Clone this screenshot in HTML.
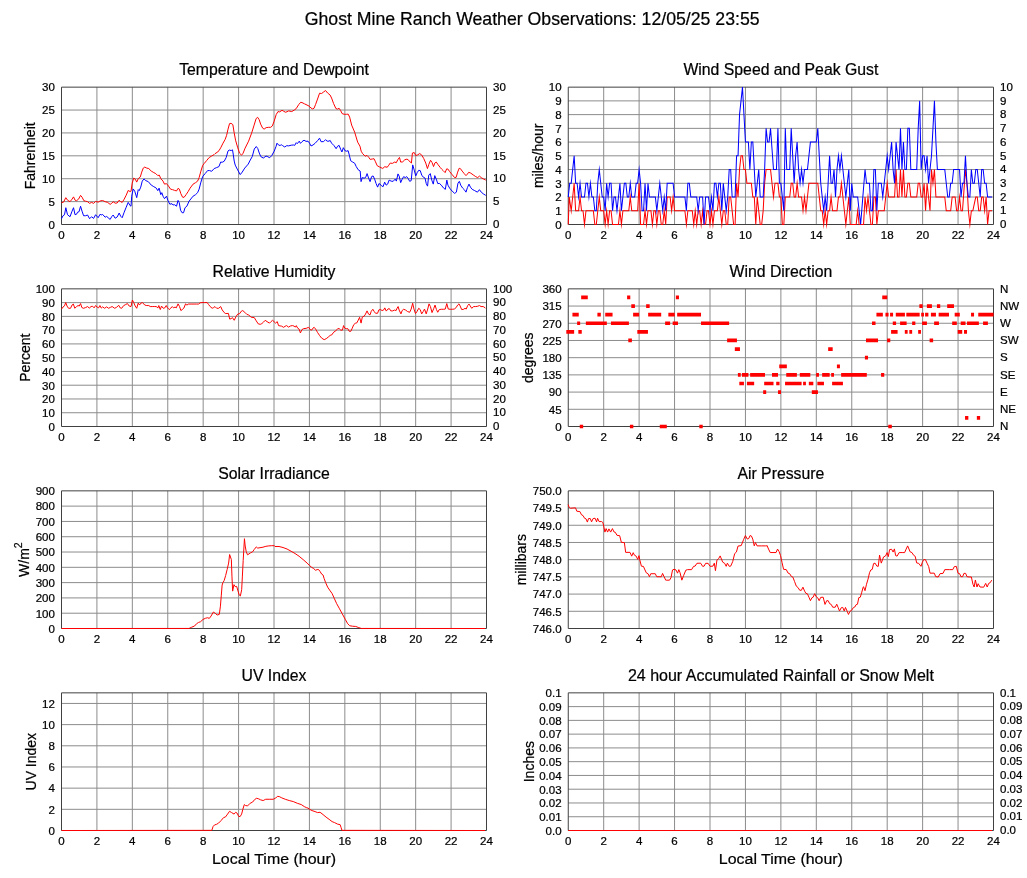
<!DOCTYPE html>
<html lang="en"><head><meta charset="utf-8"><title>Ghost Mine Ranch Weather Observations</title>
<style>html,body{margin:0;padding:0;background:#fff}body{width:1027px;height:878px;overflow:hidden}svg{will-change:transform;transform:translateZ(0)}text{stroke:#000;stroke-width:.22px;stroke-linejoin:round}</style></head>
<body>
<svg width="1027" height="878" viewBox="0 0 1027 878" style="display:block" font-family='&quot;Liberation Sans&quot;, Arial, Helvetica, sans-serif' fill="#000" stroke="none">
<rect width="1027" height="878" fill="#fff" fill-opacity="0"/>
<text x="532.2" y="24.5" font-size="17.7" text-anchor="middle">Ghost Mine Ranch Weather Observations: 12/05/25 23:55</text>
<path d="M96.92 87.15V224.5M132.33 87.15V224.5M167.75 87.15V224.5M203.17 87.15V224.5M238.58 87.15V224.5M274 87.15V224.5M309.42 87.15V224.5M344.83 87.15V224.5M380.25 87.15V224.5M415.67 87.15V224.5M451.08 87.15V224.5M61.5 201.61H486.5M61.5 178.72H486.5M61.5 155.82H486.5M61.5 132.93H486.5M61.5 110.04H486.5" stroke="#8c8c8c" stroke-width="1" fill="none"/>
<path d="M61.5 87.15H486.5V224.5H61.5Z" stroke="#404040" stroke-width="1" fill="none"/>
<polyline points="61.5,202.68 63.51,202.18 65.82,197.67 67.52,200.18 70.03,201.68 72.04,199.17 73.54,196.87 75.04,200.18 76.55,200.68 78.55,199.17 80.56,195.36 82.06,197.17 83.87,200.68 85.57,201.18 87.58,201.68 89.59,203.38 91.59,202.38 93.6,203.38 95.6,201.38 98.11,202.18 100.12,200.98 102.62,200.48 105.13,201.68 107.64,202.38 110.15,204.39 111.65,203.38 113.15,201.68 115.16,203.18 117.17,202.98 119.17,200.18 120.68,201.68 122.18,202.38 124.19,199.17 126.19,195.16 128.2,190.45 130.2,191.65 131.01,191.15 132.21,183.13 133.71,178.11 135.22,179.11 136.72,182.12 138.23,178.61 140.23,177.11 141.74,172.09 143.24,168.08 144.75,167.08 146.75,168.08 148.76,168.58 151.27,171.09 153.77,172.59 155.78,173.6 157.78,175.6 159.29,175.1 160.79,178.61 163,181.12 164.5,184.13 166.51,183.63 168.52,186.14 170.52,189.15 172.53,189.65 174.53,190.35 176.54,190.95 178.04,188.35 179.35,189.15 180.85,193.66 182.56,197.17 184.06,197.37 186.07,194.67 188.07,191.66 190.08,188.15 193.09,184.13 195.59,182.63 197.6,181.13 199.11,177.62 200.91,171.1 202.62,165.58 204.12,163.57 206.63,160.57 209.13,157.56 211.64,156.05 214.15,154.55 215,153.7 217.01,152.4 219.01,150.69 221.02,147.18 223.02,143.17 225.03,139.66 226.53,135.65 228.04,129.13 229.54,123.61 231.05,123.31 232.85,124.62 234.06,132.14 235.56,140.16 237.57,147.18 239.57,153.2 241.58,155.2 243.08,153.2 245.09,148.18 248.6,141.16 251.61,133.14 254.11,125.12 256.12,118.6 257.62,117.29 259.13,119.6 260.63,124.11 262.64,128.13 264.14,129.13 266.15,127.62 268.66,127.32 270.66,127.32 272.37,125.92 274.17,121.11 276.18,114.59 277.98,111.58 279.69,111.88 282,110.27 283.7,111.28 285.71,112.28 288.71,110.88 291.72,111.58 294.23,110.07 296.24,108.57 298.74,104.56 300.75,102.25 302.01,102.55 304.51,103.85 307.02,105.06 309.03,106.06 311.03,108.07 312.54,108.87 314.04,108.27 315.55,104.56 317.55,99.04 319.56,93.22 321.56,93.52 323.57,92.02 325.57,90.52 327.58,93.02 330.09,95.03 331.59,98.04 333.6,103.55 335.9,108.57 337.61,109.07 339.11,108.27 340.62,110.57 342.12,113.58 344.13,114.29 346.64,114.29 348.14,114.08 349.64,117.09 351.65,125.12 354.66,132.14 357.67,142.17 359.97,146.18 361.18,151.19 362.68,153.7 365.19,156.21 367,155.41 368.7,157.21 370.2,159.42 372.21,159.02 374.02,158.71 375.22,161.22 377.22,165.74 379.73,167.04 382.74,168.44 384.75,166.74 387.25,167.24 388.76,165.23 390.26,163.03 392.27,163.43 394.78,162.02 396.28,162.73 397.78,159.72 399.49,157.41 400.68,162.07 402.68,161.87 404.69,159.86 407,159.06 408.7,160.26 410.2,162.07 411.41,163.07 412.41,153.04 414.22,152.54 415.72,155.55 417.73,154.85 419.73,153.55 421.74,155.05 423.74,158.56 425.75,163.07 427.45,168.59 428.76,164.58 430.56,160.26 432.07,162.57 433.57,166.58 434.78,163.07 436.28,162.07 437.78,164.28 440.29,167.59 441.62,169.09 443.13,170.59 445.13,172.6 446.64,168.89 447.94,169.09 449.64,171.6 452.15,174.61 454.66,177.62 456.16,177.31 457.67,172.1 459.17,168.29 460.38,168.59 462.18,171.1 464.19,173.6 465.99,175.61 467.4,174.11 468.7,172.3 470.71,173.1 473.21,174.91 475.72,176.61 477.73,177.62 479.43,176.11 481.24,177.62 483.74,179.12 485.75,180.12" fill="none" stroke="#ff0000" stroke-width="1" stroke-linejoin="round"/>
<polyline points="61.5,218.73 63.01,215.72 64.51,214.72 65.82,207.7 67.52,214.72 70.03,216.72 72.04,211.21 73.54,207.7 75.04,214.72 76.55,214.22 77.55,212.21 79.06,211.71 80.56,206.19 82.06,211.21 83.57,215.72 85.57,215.72 87.58,215.02 89.59,218.73 91.59,216.72 93.6,218.43 95.6,214.72 98.11,217.73 100.12,214.22 101.12,215.02 102.62,214.42 105.13,217.22 106.64,216.42 108.14,217.73 110.15,219.43 111.65,216.72 113.15,215.02 115.16,218.23 117.17,217.02 119.17,213.01 120.68,216.22 122.18,217.73 124.19,212.21 126.19,207.2 128.2,202.38 130.2,205.69 131.01,206.19 131.71,196.16 133.21,188.94 134.72,191.15 136.72,197.67 138.23,189.64 139.23,190.65 140.74,187.14 142.24,181.12 144.04,178.91 145.75,180.62 148.26,181.62 151.27,185.13 153.77,186.64 156.28,188.14 157.78,190.65 159.09,188.14 160.79,194.66 161.8,192.65 163,196.16 164.5,198.68 166.51,196.17 168.01,200.68 169.82,204.19 172.03,203.69 173.03,205 174.53,204.69 176.54,206.2 178.04,200.38 179.25,202.69 180.55,210.21 182.06,212.72 183.56,212.72 185.06,207.7 186.87,206.2 189.08,201.18 193.09,196.17 195.59,194.67 197.6,192.66 199.11,189.15 200.91,182.13 202.62,176.61 205.12,173.6 207.63,170.59 209.64,170.59 211.64,171.3 214.15,168.59 216.66,167.59 218.96,166.58 220.67,162.07 222.17,162.27 224.18,161.27 226.18,157.56 227.99,151.04 229.19,150.04 231.2,150.54 232.5,149.83 233.2,154.05 234.21,161.07 235.21,165.08 237.22,169.09 240.22,174.61 242.23,172.1 244.74,168.09 248.25,164.08 250.25,160.06 252.26,156.55 254.27,149.03 256.27,146.52 257.78,148.53 259.28,153.04 260.78,156.55 263.29,158.06 266,156.05 267.15,156.41 269.66,157.71 271.67,155.71 274.17,151.19 275.98,146.68 276.98,143.17 278.69,145.18 280.19,145.48 281.19,144.67 282.7,145.68 284.7,146.98 286.71,145.68 288.71,145.88 291.22,145.18 293.73,144.97 294.73,145.38 296.24,142.67 297.24,143.67 299.25,141.16 300.45,143.37 302.01,141.67 304.01,140.16 306.02,141.36 308.02,141.16 309.53,143.17 311.03,145.98 313.04,144.97 315.04,143.37 317.55,140.66 319.56,138.15 321.06,141.67 323.57,141.67 325.57,139.66 327.08,141.16 329.08,141.16 330.09,140.36 331.59,143.17 334.1,145.68 336.11,148.69 337.61,146.18 339.11,145.38 340.62,149.19 341.92,152 343.33,147.68 344.93,150.69 346.64,151.19 348.14,150.69 349.34,155.2 350.65,160.72 352.65,162.02 354.66,163.23 356.16,166.44 358.17,169.75 360.18,171.05 361.06,181.63 362.26,177.62 364.07,178.12 365.57,177.62 367.08,173.6 368.58,178.12 370.09,181.63 371.59,176.61 373.1,175.91 374.6,179.12 376.11,183.63 377.61,187.14 378.91,183.63 380.12,184.13 381.62,185.94 383.13,186.64 384.63,182.13 386.13,185.14 387.64,184.13 389.14,180.12 391.15,181.13 393.15,181.33 395.16,179.12 396.36,181.13 397.97,173.9 399.17,176.11 400.68,182.63 402.18,179.12 403.69,176.61 405.19,177.62 406.69,176.61 408.2,178.62 409.7,181.33 411.21,180.62 412.71,164.88 414.22,170.09 415.72,175.91 417.22,172.6 418.73,170.29 420.23,170.59 421.74,175.11 423.24,177.11 425.05,178.12 426.25,183.63 427.56,186.14 428.76,175.11 430.26,173.6 431.77,180.12 433.27,184.13 434.78,175.61 436.28,179.12 437.78,183.63 439.29,183.33 441.3,185.14 443.63,188.15 445.33,189.35 446.84,180.12 447.94,185.14 449.64,188.15 452.15,191.15 454.66,193.36 456.36,192.16 457.97,183.13 459.37,181.33 460.68,185.14 462.68,188.15 464.69,190.15 465.99,192.16 467.4,187.64 469,184.13 470.41,187.14 472.21,189.35 474.72,190.65 477.43,192.16 479.43,189.65 481.24,192.16 483.74,194.16 485.75,195.37" fill="none" stroke="#0000ff" stroke-width="1" stroke-linejoin="round"/>
<text x="274" y="75.15" font-size="15.8" text-anchor="middle">Temperature and Dewpoint</text>
<text transform="translate(61.5 239.2) scale(1.06 1)" font-size="10.9" text-anchor="middle">0</text>
<text transform="translate(96.92 239.2) scale(1.06 1)" font-size="10.9" text-anchor="middle">2</text>
<text transform="translate(132.33 239.2) scale(1.06 1)" font-size="10.9" text-anchor="middle">4</text>
<text transform="translate(167.75 239.2) scale(1.06 1)" font-size="10.9" text-anchor="middle">6</text>
<text transform="translate(203.17 239.2) scale(1.06 1)" font-size="10.9" text-anchor="middle">8</text>
<text transform="translate(238.58 239.2) scale(1.06 1)" font-size="10.9" text-anchor="middle">10</text>
<text transform="translate(274 239.2) scale(1.06 1)" font-size="10.9" text-anchor="middle">12</text>
<text transform="translate(309.42 239.2) scale(1.06 1)" font-size="10.9" text-anchor="middle">14</text>
<text transform="translate(344.83 239.2) scale(1.06 1)" font-size="10.9" text-anchor="middle">16</text>
<text transform="translate(380.25 239.2) scale(1.06 1)" font-size="10.9" text-anchor="middle">18</text>
<text transform="translate(415.67 239.2) scale(1.06 1)" font-size="10.9" text-anchor="middle">20</text>
<text transform="translate(451.08 239.2) scale(1.06 1)" font-size="10.9" text-anchor="middle">22</text>
<text transform="translate(486.5 239.2) scale(1.06 1)" font-size="10.9" text-anchor="middle">24</text>
<text transform="translate(54.9 228.8) scale(1.06 1)" font-size="10.9" text-anchor="end">0</text>
<text transform="translate(54.9 205.91) scale(1.06 1)" font-size="10.9" text-anchor="end">5</text>
<text transform="translate(54.9 183.02) scale(1.06 1)" font-size="10.9" text-anchor="end">10</text>
<text transform="translate(54.9 160.12) scale(1.06 1)" font-size="10.9" text-anchor="end">15</text>
<text transform="translate(54.9 137.23) scale(1.06 1)" font-size="10.9" text-anchor="end">20</text>
<text transform="translate(54.9 114.34) scale(1.06 1)" font-size="10.9" text-anchor="end">25</text>
<text transform="translate(54.9 91.45) scale(1.06 1)" font-size="10.9" text-anchor="end">30</text>
<text transform="translate(493 228.2) scale(1.06 1)" font-size="10.9" text-anchor="start">0</text>
<text transform="translate(493 205.31) scale(1.06 1)" font-size="10.9" text-anchor="start">5</text>
<text transform="translate(493 182.42) scale(1.06 1)" font-size="10.9" text-anchor="start">10</text>
<text transform="translate(493 159.52) scale(1.06 1)" font-size="10.9" text-anchor="start">15</text>
<text transform="translate(493 136.63) scale(1.06 1)" font-size="10.9" text-anchor="start">20</text>
<text transform="translate(493 113.74) scale(1.06 1)" font-size="10.9" text-anchor="start">25</text>
<text transform="translate(493 90.85) scale(1.06 1)" font-size="10.9" text-anchor="start">30</text>
<text transform="translate(35.2 155.82) rotate(-90)" font-size="14" text-anchor="middle">Fahrenheit</text>
<path d="M603.69 87.15V224.5M639.12 87.15V224.5M674.56 87.15V224.5M710 87.15V224.5M745.44 87.15V224.5M780.88 87.15V224.5M816.31 87.15V224.5M851.75 87.15V224.5M887.19 87.15V224.5M922.62 87.15V224.5M958.06 87.15V224.5M568.25 210.76H993.5M568.25 197.03H993.5M568.25 183.3H993.5M568.25 169.56H993.5M568.25 155.82H993.5M568.25 142.09H993.5M568.25 128.36H993.5M568.25 114.62H993.5M568.25 100.89H993.5" stroke="#8c8c8c" stroke-width="1" fill="none"/>
<path d="M568.25 87.15H993.5V224.5H568.25Z" stroke="#404040" stroke-width="1" fill="none"/>
<polyline points="568.25,224.5 569.25,197.03 571.2,210.76 572.68,197.03 574.16,183.3 575.63,210.76 577.11,210.76 578.59,210.76 580.06,197.03 581.54,210.76 583.02,210.76 584.49,224.5 585.97,210.76 587.45,210.76 588.92,210.76 590.4,210.76 591.88,210.76 593.35,210.76 594.83,224.5 596.3,224.5 597.78,210.76 599.26,197.03 600.73,210.76 602.21,210.76 603.69,210.76 605.16,224.5 606.64,210.76 608.12,224.5 609.59,210.76 611.07,210.76 612.55,224.5 614.02,224.5 615.5,224.5 616.98,224.5 618.45,224.5 619.93,210.76 621.41,224.5 622.88,210.76 624.36,210.76 625.84,210.76 627.31,210.76 628.79,210.76 630.27,197.03 631.74,210.76 633.22,210.76 634.7,210.76 636.17,210.76 637.65,210.76 639.12,183.3 640.6,224.5 642.08,224.5 643.55,224.5 645.03,210.76 646.51,224.5 647.98,210.76 649.46,210.76 650.94,210.76 652.41,224.5 653.89,210.76 655.37,210.76 656.84,224.5 658.32,210.76 659.8,210.76 661.27,224.5 662.75,224.5 664.23,210.76 665.7,224.5 667.18,197.03 668.66,197.03 670.13,197.03 671.61,210.76 673.09,197.03 674.56,210.76 676.04,210.76 677.52,210.76 678.99,210.76 680.47,210.76 681.95,210.76 683.42,210.76 684.9,210.76 686.38,224.5 687.85,210.76 689.33,210.76 690.8,210.76 692.28,210.76 693.76,224.5 695.23,210.76 696.71,224.5 698.19,210.76 699.66,210.76 701.14,224.5 702.62,210.76 704.09,224.5 705.57,224.5 707.05,210.76 708.52,210.76 710,224.5 711.48,210.76 712.95,224.5 714.43,210.76 715.91,210.76 717.38,210.76 718.86,197.03 720.34,210.76 721.81,224.5 723.29,210.76 724.77,210.76 726.24,224.5 727.72,224.5 729.2,197.03 730.67,197.03 732.15,210.76 733.62,224.5 735.1,224.5 736.58,183.3 738.05,197.03 739.53,169.56 741.01,155.82 742.48,155.82 743.96,169.56 745.44,169.56 746.91,183.3 748.39,183.3 749.87,183.3 751.34,183.3 752.82,197.03 754.3,197.03 755.77,224.5 757.25,197.03 758.73,210.76 760.2,224.5 761.68,224.5 763.16,210.76 764.63,183.3 766.11,169.56 767.59,169.56 769.06,169.56 770.54,169.56 772.02,183.3 773.49,197.03 774.97,183.3 776.45,183.3 777.92,183.3 779.4,197.03 780.88,197.03 782.35,224.5 783.83,224.5 785.3,197.03 786.78,197.03 788.26,197.03 789.73,197.03 791.21,183.3 792.69,183.3 794.16,197.03 795.64,197.03 797.12,183.3 798.59,197.03 800.07,197.03 801.55,197.03 803.02,210.76 804.5,197.03 805.98,210.76 807.45,197.03 808.93,183.3 810.41,183.3 811.88,183.3 813.36,183.3 814.84,183.3 816.31,183.3 817.79,183.3 819.27,197.03 820.74,210.76 822.22,210.76 823.7,224.5 825.17,210.76 826.65,224.5 828.12,210.76 829.6,210.76 831.08,197.03 832.55,210.76 834.03,210.76 835.51,210.76 836.98,210.76 838.46,197.03 839.94,197.03 841.41,183.3 842.89,197.03 844.37,210.76 845.84,224.5 847.32,210.76 848.8,197.03 850.27,224.5 851.75,224.5 853.23,224.5 854.7,224.5 856.18,224.5 857.66,210.76 859.13,224.5 860.61,224.5 862.09,224.5 863.56,224.5 865.04,197.03 866.52,210.76 867.99,197.03 869.47,210.76 870.95,224.5 872.42,224.5 873.9,197.03 875.38,197.03 876.85,224.5 878.33,210.76 879.8,210.76 881.28,210.76 882.76,210.76 884.23,210.76 885.71,197.03 887.19,183.3 888.66,197.03 890.14,197.03 891.62,197.03 893.09,197.03 894.57,197.03 896.05,169.56 897.52,197.03 899,197.03 900.48,169.56 901.95,197.03 903.43,169.56 904.91,197.03 906.38,197.03 907.86,183.3 909.34,183.3 910.81,197.03 912.29,197.03 913.77,197.03 915.24,197.03 916.72,197.03 918.2,183.3 919.67,183.3 921.15,197.03 922.62,197.03 924.1,183.3 925.58,210.76 927.05,183.3 928.53,197.03 930.01,210.76 931.48,169.56 932.96,183.3 934.44,169.56 935.91,197.03 937.39,197.03 938.87,197.03 940.34,197.03 941.82,197.03 943.3,197.03 944.77,197.03 946.25,210.76 947.73,210.76 949.2,210.76 950.68,210.76 952.16,197.03 953.63,197.03 955.11,197.03 956.59,210.76 958.06,210.76 959.54,197.03 961.02,210.76 962.49,210.76 963.97,190.16 965.45,169.56 966.92,183.3 968.4,210.76 969.88,224.5 971.35,210.76 972.83,210.76 974.3,203.9 975.78,197.03 977.26,197.03 978.73,210.76 980.21,210.76 981.69,197.03 983.16,197.03 984.64,210.76 986.12,197.03 987.59,224.5 989.07,210.76 990.55,210.76 992.02,210.76" fill="none" stroke="#ff0000" stroke-width="1.02" stroke-linejoin="miter" stroke-miterlimit="10"/>
<polyline points="568.25,197.03 569.73,183.3 571.2,183.3 572.68,169.56 574.16,155.82 575.63,183.3 577.11,183.3 578.59,197.03 580.06,183.3 581.54,197.03 583.02,197.03 584.49,197.03 585.97,183.3 587.45,183.3 588.92,197.03 590.4,183.3 591.88,197.03 593.35,197.03 594.83,210.76 596.3,210.76 597.78,183.3 599.26,169.56 600.73,183.3 602.21,197.03 603.69,197.03 605.16,210.76 606.64,183.3 608.12,197.03 609.59,183.3 611.07,183.3 612.55,210.76 614.02,197.03 615.5,197.03 616.98,210.76 618.45,197.03 619.93,183.3 621.41,210.76 622.88,197.03 624.36,183.3 625.84,183.3 627.31,197.03 628.79,197.03 630.27,183.3 631.74,197.03 633.22,197.03 634.7,197.03 636.17,183.3 637.65,183.3 639.12,169.56 640.6,183.3 642.08,210.76 643.55,210.76 645.03,183.3 646.51,210.76 647.98,183.3 649.46,197.03 650.94,197.03 652.41,197.03 653.89,197.03 655.37,197.03 656.84,210.76 658.32,197.03 659.8,183.3 661.27,197.03 662.75,210.76 664.23,197.03 665.7,210.76 667.18,183.3 668.66,183.3 670.13,183.3 671.61,183.3 673.09,183.3 674.56,197.03 676.04,197.03 677.52,197.03 678.99,197.03 680.47,197.03 681.95,197.03 683.42,197.03 684.9,197.03 686.38,210.76 687.85,183.3 689.33,183.3 690.8,197.03 692.28,197.03 693.76,197.03 695.23,197.03 696.71,197.03 698.19,210.76 699.66,197.03 701.14,197.03 702.62,197.03 704.09,224.5 705.57,197.03 707.05,197.03 708.52,197.03 710,210.76 711.48,197.03 712.95,210.76 714.43,183.3 715.91,183.3 717.38,197.03 718.86,183.3 720.34,183.3 721.81,210.76 723.29,183.3 724.77,197.03 726.24,210.76 727.72,197.03 729.2,169.56 730.67,169.56 732.15,197.03 733.62,197.03 735.1,197.03 736.58,155.82 738.05,155.82 739.53,114.62 741.01,100.89 742.48,87.15 743.96,114.62 745.44,142.09 746.91,142.09 748.39,142.09 749.87,169.56 751.34,142.09 752.82,142.09 754.3,169.56 755.77,197.03 757.25,183.3 758.73,169.56 760.2,197.03 761.68,197.03 763.16,197.03 764.63,169.56 766.11,128.36 767.59,142.09 769.06,142.09 770.54,128.36 772.02,148.96 773.49,169.56 774.97,169.56 776.45,169.56 777.92,128.36 779.4,183.3 780.88,183.3 782.35,197.03 783.83,210.76 785.3,128.36 786.78,169.56 788.26,169.56 789.73,169.56 791.21,128.36 792.69,155.82 794.16,183.3 795.64,155.82 797.12,142.09 798.59,169.56 800.07,183.3 801.55,169.56 803.02,183.3 804.5,169.56 805.98,169.56 807.45,169.56 808.93,155.82 810.41,142.09 811.88,142.09 813.36,142.09 814.84,142.09 816.31,142.09 817.79,128.36 819.27,155.82 820.74,183.3 822.22,197.03 823.7,210.76 825.17,197.03 826.65,210.76 828.12,183.3 829.6,155.82 831.08,183.3 832.55,183.3 834.03,169.56 835.51,197.03 836.98,169.56 838.46,155.82 839.94,169.56 841.41,155.82 842.89,169.56 844.37,183.3 845.84,197.03 847.32,183.3 848.8,169.56 850.27,210.76 851.75,183.3 853.23,197.03 854.7,197.03 856.18,197.03 857.66,197.03 859.13,210.76 860.61,224.5 862.09,206.23 863.56,187.83 865.04,169.56 866.52,183.3 867.99,183.3 869.47,183.3 870.95,210.76 872.42,210.76 873.9,169.56 875.38,169.56 876.85,210.76 878.33,183.3 879.8,183.3 881.28,183.3 882.76,197.03 884.23,183.3 885.71,169.56 887.19,155.82 888.66,169.56 890.14,155.82 891.62,142.09 893.09,169.56 894.57,183.3 896.05,142.09 897.52,155.82 899,169.56 900.48,128.36 901.95,169.56 903.43,142.09 904.91,169.56 906.38,169.56 907.86,128.36 909.34,128.36 910.81,169.56 912.29,169.56 913.77,169.56 915.24,169.56 916.72,169.56 918.2,128.36 919.67,100.89 921.15,169.56 922.62,155.82 924.1,155.82 925.58,169.56 927.05,155.82 928.53,183.3 930.01,169.56 931.48,155.82 932.96,128.36 934.44,100.89 935.91,142.09 937.39,169.56 938.87,169.56 940.34,169.56 941.82,169.56 943.3,169.56 944.77,169.56 946.25,183.3 947.73,197.03 949.2,197.03 950.68,183.3 952.16,183.3 953.63,169.56 955.11,169.56 956.59,169.56 958.06,169.56 959.54,169.56 961.02,197.03 962.49,183.3 963.97,183.3 965.45,155.82 966.92,183.3 968.4,197.03 969.88,197.03 971.35,169.56 972.83,183.3 974.3,183.3 975.78,169.56 977.26,169.56 978.73,183.3 980.21,197.03 981.69,169.56 983.16,169.56 984.64,183.3 986.12,183.3 987.59,197.03 989.07,197.03 990.55,197.03 992.02,197.03" fill="none" stroke="#0000ff" stroke-width="1.02" stroke-linejoin="miter" stroke-miterlimit="10"/>
<text x="780.88" y="75.15" font-size="15.8" text-anchor="middle">Wind Speed and Peak Gust</text>
<text transform="translate(568.25 239.2) scale(1.06 1)" font-size="10.9" text-anchor="middle">0</text>
<text transform="translate(603.69 239.2) scale(1.06 1)" font-size="10.9" text-anchor="middle">2</text>
<text transform="translate(639.12 239.2) scale(1.06 1)" font-size="10.9" text-anchor="middle">4</text>
<text transform="translate(674.56 239.2) scale(1.06 1)" font-size="10.9" text-anchor="middle">6</text>
<text transform="translate(710 239.2) scale(1.06 1)" font-size="10.9" text-anchor="middle">8</text>
<text transform="translate(745.44 239.2) scale(1.06 1)" font-size="10.9" text-anchor="middle">10</text>
<text transform="translate(780.88 239.2) scale(1.06 1)" font-size="10.9" text-anchor="middle">12</text>
<text transform="translate(816.31 239.2) scale(1.06 1)" font-size="10.9" text-anchor="middle">14</text>
<text transform="translate(851.75 239.2) scale(1.06 1)" font-size="10.9" text-anchor="middle">16</text>
<text transform="translate(887.19 239.2) scale(1.06 1)" font-size="10.9" text-anchor="middle">18</text>
<text transform="translate(922.62 239.2) scale(1.06 1)" font-size="10.9" text-anchor="middle">20</text>
<text transform="translate(958.06 239.2) scale(1.06 1)" font-size="10.9" text-anchor="middle">22</text>
<text transform="translate(993.5 239.2) scale(1.06 1)" font-size="10.9" text-anchor="middle">24</text>
<text transform="translate(561.65 228.8) scale(1.06 1)" font-size="10.9" text-anchor="end">0</text>
<text transform="translate(561.65 215.06) scale(1.06 1)" font-size="10.9" text-anchor="end">1</text>
<text transform="translate(561.65 201.33) scale(1.06 1)" font-size="10.9" text-anchor="end">2</text>
<text transform="translate(561.65 187.6) scale(1.06 1)" font-size="10.9" text-anchor="end">3</text>
<text transform="translate(561.65 173.86) scale(1.06 1)" font-size="10.9" text-anchor="end">4</text>
<text transform="translate(561.65 160.12) scale(1.06 1)" font-size="10.9" text-anchor="end">5</text>
<text transform="translate(561.65 146.39) scale(1.06 1)" font-size="10.9" text-anchor="end">6</text>
<text transform="translate(561.65 132.66) scale(1.06 1)" font-size="10.9" text-anchor="end">7</text>
<text transform="translate(561.65 118.92) scale(1.06 1)" font-size="10.9" text-anchor="end">8</text>
<text transform="translate(561.65 105.19) scale(1.06 1)" font-size="10.9" text-anchor="end">9</text>
<text transform="translate(561.65 91.45) scale(1.06 1)" font-size="10.9" text-anchor="end">10</text>
<text transform="translate(1000 228.2) scale(1.06 1)" font-size="10.9" text-anchor="start">0</text>
<text transform="translate(1000 214.46) scale(1.06 1)" font-size="10.9" text-anchor="start">1</text>
<text transform="translate(1000 200.73) scale(1.06 1)" font-size="10.9" text-anchor="start">2</text>
<text transform="translate(1000 187) scale(1.06 1)" font-size="10.9" text-anchor="start">3</text>
<text transform="translate(1000 173.26) scale(1.06 1)" font-size="10.9" text-anchor="start">4</text>
<text transform="translate(1000 159.52) scale(1.06 1)" font-size="10.9" text-anchor="start">5</text>
<text transform="translate(1000 145.79) scale(1.06 1)" font-size="10.9" text-anchor="start">6</text>
<text transform="translate(1000 132.06) scale(1.06 1)" font-size="10.9" text-anchor="start">7</text>
<text transform="translate(1000 118.32) scale(1.06 1)" font-size="10.9" text-anchor="start">8</text>
<text transform="translate(1000 104.59) scale(1.06 1)" font-size="10.9" text-anchor="start">9</text>
<text transform="translate(1000 90.85) scale(1.06 1)" font-size="10.9" text-anchor="start">10</text>
<text transform="translate(543.3 155.82) rotate(-90)" font-size="14" text-anchor="middle">miles/hour</text>
<path d="M96.92 288.85V426.5M132.33 288.85V426.5M167.75 288.85V426.5M203.17 288.85V426.5M238.58 288.85V426.5M274 288.85V426.5M309.42 288.85V426.5M344.83 288.85V426.5M380.25 288.85V426.5M415.67 288.85V426.5M451.08 288.85V426.5M61.5 412.74H486.5M61.5 398.97H486.5M61.5 385.21H486.5M61.5 371.44H486.5M61.5 357.68H486.5M61.5 343.91H486.5M61.5 330.15H486.5M61.5 316.38H486.5M61.5 302.62H486.5" stroke="#8c8c8c" stroke-width="1" fill="none"/>
<path d="M61.5 288.85H486.5V426.5H61.5Z" stroke="#404040" stroke-width="1" fill="none"/>
<polyline points="61.5,309.07 63.01,307.06 64.51,305.86 65.72,302.55 67.02,306.06 68.52,308.27 70.53,308.27 72.04,305.06 73.34,304.06 74.84,308.27 76.55,306.56 78.05,305.56 79.26,306.06 80.56,303.55 81.86,307.57 83.57,308.27 85.57,307.57 87.58,306.56 89.29,308.07 91.09,306.56 92.59,306.26 94.1,307.87 95.6,305.56 97.11,307.06 98.61,307.87 99.92,305.56 101.32,308.07 102.62,306.86 104.63,308.27 106.64,306.86 108.64,308.27 110.65,307.26 112.15,306.56 114.66,308.27 116.67,307.26 118.67,305.26 120.18,307.87 121.68,308.27 123.69,305.56 125.69,304.56 127.4,303.55 129.2,306.06 131.01,306.56 132.41,300.04 133.71,302.55 135.22,306.06 136.72,308.27 138.23,303.05 139.53,305.06 140.74,303.25 142.44,302.55 144.75,305.06 146.75,305.56 148.76,305.56 150.26,306.56 152.27,306.56 154.78,306.56 156.48,306.56 157.78,308.07 158.79,305.56 160.29,309.57 161.5,306.06 163.21,308.27 164.81,307.87 166.22,305.56 167.52,307.87 169.23,309.57 170.83,308.07 172.24,306.56 173.54,307.87 175.04,307.06 176.25,307.87 178.05,303.85 179.56,306.56 180.86,310.57 182.26,309.57 183.87,308.07 185.57,303.85 186.88,305.06 188.58,304.06 191.09,304.06 194.1,304.06 196.61,304.06 198.61,304.06 200.12,302.85 202.12,302.55 204.63,302.55 207.14,302.55 208.64,304.56 210.15,306.56 212.15,308.27 213.66,307.57 214.96,306.56 216.67,308.27 218.67,308.27 220.68,306.56 222.18,309.87 224.19,312.58 225.69,313.58 228.4,313.38 229.7,319.1 231.21,318.6 232.41,317.59 234.22,320.3 236.02,316.59 237.73,314.08 239.73,313.58 241.24,311.28 242.74,310.57 244.75,312.28 246.75,314.29 248.76,315.09 251.27,317.29 254.27,317.59 256.28,320.9 258.29,323.91 260.29,324.31 261.8,323.61 263.51,322.11 265.22,320.3 267.02,321.61 269.53,323.11 271.03,321.61 272.54,320.3 274.04,321.61 275.55,323.11 277.25,321.61 278.55,325.62 280.06,325.92 281.56,326.12 283.57,327.32 285.07,326.32 286.58,325.62 288.58,327.12 290.59,325.92 292.59,325.62 294.1,326.12 295.3,327.12 296.31,325.62 297.61,328.13 299.11,329.13 300.42,332.94 301.92,329.63 303.63,328.63 306.13,328.33 308.64,327.32 310.15,329.63 311.65,330.13 312.95,328.13 314.16,327.32 315.66,329.13 317.67,332.64 319.67,335.65 321.68,338.15 324.19,339.66 326.19,338.66 328.2,337.15 330.2,335.35 331.71,334.95 333.71,332.14 335.72,330.93 337.73,328.63 339.23,328.63 340.74,330.13 342.44,330.13 343.54,325.62 344.75,328.13 346.25,328.63 347.76,328.63 349.26,331.33 350.76,331.33 352.27,328.13 353.77,324.62 355.28,323.31 356.78,322.91 358.29,320.1 359.59,317.29 361.09,323.11 362.3,317.09 364.23,316.09 365.53,314.08 367.04,310.88 368.54,314.08 370.04,314.89 371.25,311.28 372.85,309.27 374.26,311.58 375.56,313.28 377.57,313.28 378.87,309.87 380.57,309.57 382.08,310.57 383.58,310.07 384.79,307.87 386.29,311.08 387.9,309.07 389.3,308.57 390.8,310.88 392.61,310.88 394.62,310.07 396.12,310.57 397.12,308.07 398.13,306.56 399.13,310.07 400.93,313.88 402.14,310.57 403.64,309.27 405.65,310.07 407.65,311.58 409.66,312.28 411.16,309.07 412.67,303.25 413.97,309.07 415.48,313.58 416.98,311.58 418.69,308.27 420.19,309.57 421.69,313.88 423.2,311.58 424.5,309.07 426.21,313.88 427.71,309.07 429.02,303.85 430.42,306.56 432.02,312.58 433.73,308.57 435.03,305.06 436.44,309.57 437.74,312.28 439.25,309.57 441.25,309.27 443.76,309.27 445.26,309.07 446.77,303.55 448.27,309.07 450.28,309.27 452.28,309.27 454.29,309.07 456.16,307.57 457.67,305.06 458.97,303.85 460.18,306.06 461.68,309.57 463.69,309.27 464.99,308.27 466.19,309.07 467.7,305.56 469,304.06 470.2,305.86 471.71,308.27 473.71,306.56 475.72,306.56 477.73,306.26 479.43,305.56 481.04,306.56 483.24,306.56 485.45,308.07" fill="none" stroke="#ff0000" stroke-width="1" stroke-linejoin="round"/>
<text x="274" y="276.85" font-size="15.8" text-anchor="middle">Relative Humidity</text>
<text transform="translate(61.5 441.2) scale(1.06 1)" font-size="10.9" text-anchor="middle">0</text>
<text transform="translate(96.92 441.2) scale(1.06 1)" font-size="10.9" text-anchor="middle">2</text>
<text transform="translate(132.33 441.2) scale(1.06 1)" font-size="10.9" text-anchor="middle">4</text>
<text transform="translate(167.75 441.2) scale(1.06 1)" font-size="10.9" text-anchor="middle">6</text>
<text transform="translate(203.17 441.2) scale(1.06 1)" font-size="10.9" text-anchor="middle">8</text>
<text transform="translate(238.58 441.2) scale(1.06 1)" font-size="10.9" text-anchor="middle">10</text>
<text transform="translate(274 441.2) scale(1.06 1)" font-size="10.9" text-anchor="middle">12</text>
<text transform="translate(309.42 441.2) scale(1.06 1)" font-size="10.9" text-anchor="middle">14</text>
<text transform="translate(344.83 441.2) scale(1.06 1)" font-size="10.9" text-anchor="middle">16</text>
<text transform="translate(380.25 441.2) scale(1.06 1)" font-size="10.9" text-anchor="middle">18</text>
<text transform="translate(415.67 441.2) scale(1.06 1)" font-size="10.9" text-anchor="middle">20</text>
<text transform="translate(451.08 441.2) scale(1.06 1)" font-size="10.9" text-anchor="middle">22</text>
<text transform="translate(486.5 441.2) scale(1.06 1)" font-size="10.9" text-anchor="middle">24</text>
<text transform="translate(54.9 430.8) scale(1.06 1)" font-size="10.9" text-anchor="end">0</text>
<text transform="translate(54.9 417.04) scale(1.06 1)" font-size="10.9" text-anchor="end">10</text>
<text transform="translate(54.9 403.27) scale(1.06 1)" font-size="10.9" text-anchor="end">20</text>
<text transform="translate(54.9 389.51) scale(1.06 1)" font-size="10.9" text-anchor="end">30</text>
<text transform="translate(54.9 375.74) scale(1.06 1)" font-size="10.9" text-anchor="end">40</text>
<text transform="translate(54.9 361.98) scale(1.06 1)" font-size="10.9" text-anchor="end">50</text>
<text transform="translate(54.9 348.21) scale(1.06 1)" font-size="10.9" text-anchor="end">60</text>
<text transform="translate(54.9 334.45) scale(1.06 1)" font-size="10.9" text-anchor="end">70</text>
<text transform="translate(54.9 320.68) scale(1.06 1)" font-size="10.9" text-anchor="end">80</text>
<text transform="translate(54.9 306.92) scale(1.06 1)" font-size="10.9" text-anchor="end">90</text>
<text transform="translate(54.9 293.15) scale(1.06 1)" font-size="10.9" text-anchor="end">100</text>
<text transform="translate(493 430.2) scale(1.06 1)" font-size="10.9" text-anchor="start">0</text>
<text transform="translate(493 416.44) scale(1.06 1)" font-size="10.9" text-anchor="start">10</text>
<text transform="translate(493 402.67) scale(1.06 1)" font-size="10.9" text-anchor="start">20</text>
<text transform="translate(493 388.91) scale(1.06 1)" font-size="10.9" text-anchor="start">30</text>
<text transform="translate(493 375.14) scale(1.06 1)" font-size="10.9" text-anchor="start">40</text>
<text transform="translate(493 361.38) scale(1.06 1)" font-size="10.9" text-anchor="start">50</text>
<text transform="translate(493 347.61) scale(1.06 1)" font-size="10.9" text-anchor="start">60</text>
<text transform="translate(493 333.85) scale(1.06 1)" font-size="10.9" text-anchor="start">70</text>
<text transform="translate(493 320.08) scale(1.06 1)" font-size="10.9" text-anchor="start">80</text>
<text transform="translate(493 306.31) scale(1.06 1)" font-size="10.9" text-anchor="start">90</text>
<text transform="translate(493 292.55) scale(1.06 1)" font-size="10.9" text-anchor="start">100</text>
<text transform="translate(29.6 357.68) rotate(-90)" font-size="14" text-anchor="middle">Percent</text>
<path d="M603.69 288.85V426.5M639.12 288.85V426.5M674.56 288.85V426.5M710 288.85V426.5M745.44 288.85V426.5M780.88 288.85V426.5M816.31 288.85V426.5M851.75 288.85V426.5M887.19 288.85V426.5M922.62 288.85V426.5M958.06 288.85V426.5M568.25 409.29H993.5M568.25 392.09H993.5M568.25 374.88H993.5M568.25 357.68H993.5M568.25 340.47H993.5M568.25 323.26H993.5M568.25 306.06H993.5" stroke="#8c8c8c" stroke-width="1" fill="none"/>
<path d="M568.25 288.85H993.5V426.5H568.25Z" stroke="#404040" stroke-width="1" fill="none"/>
<path d="M581.16 295.6H587.78V299.3H581.16ZM627.09 295.6H630.3V299.3H627.09ZM631.3 304.21H634.91V307.91H631.3ZM646.14 304.21H649.66V307.91H646.14ZM572.43 312.81H578.75V316.51H572.43ZM597.4 312.81H600.81V316.51H597.4ZM605.23 312.81H612.55V316.51H605.23ZM633.11 312.81H639.12V316.51H633.11ZM648.15 312.81H661.19V316.51H648.15ZM577.14 321.41H580.15V325.11H577.14ZM585.87 321.41H606.83V325.11H585.87ZM610.94 321.41H628.9V325.11H610.94ZM566.31 330.02H574.14V333.72H566.31ZM578.35 330.02H581.76V333.72H578.35ZM637.32 330.02H647.95V333.72H637.32ZM628.29 338.62H631.9V342.32H628.29ZM675.86 295.6H678.97V299.3H675.86ZM655.1 312.81H661.12V316.51H655.1ZM668.34 312.81H674.76V316.51H668.34ZM677.16 312.81H701.03V316.51H677.16ZM665.13 321.41H670.14V325.11H665.13ZM672.65 321.41H677.97V325.11H672.65ZM701.03 321.41H729.12V325.11H701.03ZM727.11 338.62H736.94V342.32H727.11ZM734.83 347.22H739.95V350.92H734.83ZM579.75 424.65H583.16V428.35H579.75ZM629.9 424.65H633.31V428.35H629.9ZM659.78 424.65H666.81V428.35H659.78ZM699.3 424.65H702.71V428.35H699.3ZM828.17 347.22H832.68V350.92H828.17ZM779.23 364.43H786.85V368.13H779.23ZM737.91 373.03H740.72V376.73H737.91ZM741.92 373.03H748.44V376.73H741.92ZM750.14 373.03H764.99V376.73H750.14ZM772.01 373.03H778.03V376.73H772.01ZM786.25 373.03H796.88V376.73H786.25ZM799.79 373.03H810.32V376.73H799.79ZM816.14 373.03H818.94V376.73H816.14ZM822.15 373.03H829.68V376.73H822.15ZM831.18 373.03H833.99V376.73H831.18ZM739.31 381.63H743.93V385.33H739.31ZM746.93 381.63H754.16V385.33H746.93ZM764.18 381.63H773.51V385.33H764.18ZM776.22 381.63H779.53V385.33H776.22ZM785.05 381.63H801.59V385.33H785.05ZM803.1 381.63H805.91V385.33H803.1ZM808.81 381.63H813.33V385.33H808.81ZM817.34 381.63H823.96V385.33H817.34ZM763.18 390.24H766.19V393.94H763.18ZM778.03 390.24H781.03V393.94H778.03ZM811.82 390.24H817.94V393.94H811.82ZM882.25 295.6H887.27V299.3H882.25ZM919.36 304.21H922.67V307.91H919.36ZM876.43 312.81H882.85V316.51H876.43ZM885.46 312.81H888.57V316.51H885.46ZM890.07 312.81H893.08V316.51H890.07ZM895.79 312.81H904.92V316.51H895.79ZM906.32 312.81H919.66V316.51H906.32ZM921.17 312.81H923.97V316.51H921.17ZM872.02 321.41H875.53V325.11H872.02ZM892.78 321.41H896.09V325.11H892.78ZM900.1 321.41H906.62V325.11H900.1ZM912.14 321.41H915.35V325.11H912.14ZM891.08 330.02H897.6V333.72H891.08ZM904.82 330.02H907.63V333.72H904.82ZM909.33 330.02H912.14V333.72H909.33ZM918.16 330.02H920.97V333.72H918.16ZM866 338.62H878.04V342.32H866ZM887.07 338.62H890.28V342.32H887.07ZM864.9 355.82H868.01V359.53H864.9ZM836.92 364.43H839.93V368.13H836.92ZM841.13 373.03H866.81V376.73H841.13ZM881.05 373.03H884.26V376.73H881.05ZM832.11 381.63H842.94V385.33H832.11ZM926.91 304.21H931.92V307.91H926.91ZM936.94 304.21H940.25V307.91H936.94ZM947.17 304.21H953.99V307.91H947.17ZM925.1 312.81H928.41V316.51H925.1ZM930.92 312.81H935.94V316.51H930.92ZM938.64 312.81H948.97V316.51H938.64ZM954.69 312.81H959.8V316.51H954.69ZM971.04 312.81H974.05V316.51H971.04ZM978.26 312.81H993.6V316.51H978.26ZM922.09 321.41H926.91V325.11H922.09ZM934.13 321.41H938.94V325.11H934.13ZM952.18 321.41H956.8V325.11H952.18ZM960.71 321.41H965.52V325.11H960.71ZM967.03 321.41H978.86V325.11H967.03ZM983.07 321.41H987.89V325.11H983.07ZM957.7 330.02H962.21V333.72H957.7ZM964.02 330.02H967.03V333.72H964.02ZM929.62 338.62H933.13V342.32H929.62ZM888.28 424.65H891.82V428.35H888.28ZM965.05 416.05H968.35V419.75H965.05ZM976.85 416.05H980.15V419.75H976.85Z" fill="#ff0000"/>
<text x="780.88" y="276.85" font-size="15.8" text-anchor="middle">Wind Direction</text>
<text transform="translate(568.25 441.2) scale(1.06 1)" font-size="10.9" text-anchor="middle">0</text>
<text transform="translate(603.69 441.2) scale(1.06 1)" font-size="10.9" text-anchor="middle">2</text>
<text transform="translate(639.12 441.2) scale(1.06 1)" font-size="10.9" text-anchor="middle">4</text>
<text transform="translate(674.56 441.2) scale(1.06 1)" font-size="10.9" text-anchor="middle">6</text>
<text transform="translate(710 441.2) scale(1.06 1)" font-size="10.9" text-anchor="middle">8</text>
<text transform="translate(745.44 441.2) scale(1.06 1)" font-size="10.9" text-anchor="middle">10</text>
<text transform="translate(780.88 441.2) scale(1.06 1)" font-size="10.9" text-anchor="middle">12</text>
<text transform="translate(816.31 441.2) scale(1.06 1)" font-size="10.9" text-anchor="middle">14</text>
<text transform="translate(851.75 441.2) scale(1.06 1)" font-size="10.9" text-anchor="middle">16</text>
<text transform="translate(887.19 441.2) scale(1.06 1)" font-size="10.9" text-anchor="middle">18</text>
<text transform="translate(922.62 441.2) scale(1.06 1)" font-size="10.9" text-anchor="middle">20</text>
<text transform="translate(958.06 441.2) scale(1.06 1)" font-size="10.9" text-anchor="middle">22</text>
<text transform="translate(993.5 441.2) scale(1.06 1)" font-size="10.9" text-anchor="middle">24</text>
<text transform="translate(561.65 430.8) scale(1.06 1)" font-size="10.9" text-anchor="end">0</text>
<text transform="translate(561.65 413.59) scale(1.06 1)" font-size="10.9" text-anchor="end">45</text>
<text transform="translate(561.65 396.39) scale(1.06 1)" font-size="10.9" text-anchor="end">90</text>
<text transform="translate(561.65 379.18) scale(1.06 1)" font-size="10.9" text-anchor="end">135</text>
<text transform="translate(561.65 361.98) scale(1.06 1)" font-size="10.9" text-anchor="end">180</text>
<text transform="translate(561.65 344.77) scale(1.06 1)" font-size="10.9" text-anchor="end">225</text>
<text transform="translate(561.65 327.56) scale(1.06 1)" font-size="10.9" text-anchor="end">270</text>
<text transform="translate(561.65 310.36) scale(1.06 1)" font-size="10.9" text-anchor="end">315</text>
<text transform="translate(561.65 293.15) scale(1.06 1)" font-size="10.9" text-anchor="end">360</text>
<text transform="translate(1000 430.2) scale(1.06 1)" font-size="10.9" text-anchor="start">N</text>
<text transform="translate(1000 412.99) scale(1.06 1)" font-size="10.9" text-anchor="start">NE</text>
<text transform="translate(1000 395.79) scale(1.06 1)" font-size="10.9" text-anchor="start">E</text>
<text transform="translate(1000 378.58) scale(1.06 1)" font-size="10.9" text-anchor="start">SE</text>
<text transform="translate(1000 361.38) scale(1.06 1)" font-size="10.9" text-anchor="start">S</text>
<text transform="translate(1000 344.17) scale(1.06 1)" font-size="10.9" text-anchor="start">SW</text>
<text transform="translate(1000 326.96) scale(1.06 1)" font-size="10.9" text-anchor="start">W</text>
<text transform="translate(1000 309.76) scale(1.06 1)" font-size="10.9" text-anchor="start">NW</text>
<text transform="translate(1000 292.55) scale(1.06 1)" font-size="10.9" text-anchor="start">N</text>
<text transform="translate(533 357.68) rotate(-90)" font-size="14" text-anchor="middle">degrees</text>
<path d="M96.92 490.85V628.5M132.33 490.85V628.5M167.75 490.85V628.5M203.17 490.85V628.5M238.58 490.85V628.5M274 490.85V628.5M309.42 490.85V628.5M344.83 490.85V628.5M380.25 490.85V628.5M415.67 490.85V628.5M451.08 490.85V628.5M61.5 613.21H486.5M61.5 597.91H486.5M61.5 582.62H486.5M61.5 567.32H486.5M61.5 552.03H486.5M61.5 536.73H486.5M61.5 521.44H486.5M61.5 506.14H486.5" stroke="#8c8c8c" stroke-width="1" fill="none"/>
<path d="M61.5 490.85H486.5V628.5H61.5Z" stroke="#404040" stroke-width="1" fill="none"/>
<polyline points="61.5,628.5 189.03,628.45 191.53,627.25 194.54,626.04 196.55,623.74 198.55,622.43 200.56,621.73 203.07,619.42 205.57,618.22 207.58,617.72 209.29,618.42 211.09,616.01 213.4,612 215.1,613.2 217.11,615.01 219.31,614.41 220.42,606.18 221.32,595.15 222.12,585.12 222.93,582.62 224.13,580.61 225.63,575.59 227.14,569.58 228.64,563.06 229.64,554.53 231.35,559.55 231.95,576.1 232.65,591.14 233.96,584.62 235.16,586.63 236.67,586.33 237.97,590.94 239.17,594.95 240.38,595.95 241.68,589.64 242.38,576.1 243.18,560.55 243.9,548 244.45,538.7 245.2,546 246.2,551.5 247.5,554.8 249,553.9 250.7,552.75 252.5,551.9 254.2,549.5 256.3,546.9 257.7,548.1 260,547.7 263,547.2 265.9,546.3 268.8,545.9 271.7,545.7 274.4,545.7 275,546.51 279.01,546.51 283.02,547.51 287.04,549.02 291.05,551.22 295.06,553.53 299.07,556.24 303.08,559.55 307.09,563.06 309.6,565.57 311.61,567.27 313.61,568.57 315.62,570.28 317.12,569.58 318.63,569.58 320.13,571.58 321.64,574.09 323.14,575.09 324.14,578.6 325.65,582.62 327.65,587.13 329.66,590.14 332.17,593.65 334.17,598.16 336.68,603.68 339.19,608.19 342.2,613.71 345.2,619.22 347.71,623.74 349.72,625.74 352.73,626.24 355.74,626.44 358.24,627.45 361.25,628.45 485,628.5" fill="none" stroke="#ff0000" stroke-width="1" stroke-linejoin="round"/>
<text x="274" y="478.85" font-size="15.8" text-anchor="middle">Solar Irradiance</text>
<text transform="translate(61.5 643.2) scale(1.06 1)" font-size="10.9" text-anchor="middle">0</text>
<text transform="translate(96.92 643.2) scale(1.06 1)" font-size="10.9" text-anchor="middle">2</text>
<text transform="translate(132.33 643.2) scale(1.06 1)" font-size="10.9" text-anchor="middle">4</text>
<text transform="translate(167.75 643.2) scale(1.06 1)" font-size="10.9" text-anchor="middle">6</text>
<text transform="translate(203.17 643.2) scale(1.06 1)" font-size="10.9" text-anchor="middle">8</text>
<text transform="translate(238.58 643.2) scale(1.06 1)" font-size="10.9" text-anchor="middle">10</text>
<text transform="translate(274 643.2) scale(1.06 1)" font-size="10.9" text-anchor="middle">12</text>
<text transform="translate(309.42 643.2) scale(1.06 1)" font-size="10.9" text-anchor="middle">14</text>
<text transform="translate(344.83 643.2) scale(1.06 1)" font-size="10.9" text-anchor="middle">16</text>
<text transform="translate(380.25 643.2) scale(1.06 1)" font-size="10.9" text-anchor="middle">18</text>
<text transform="translate(415.67 643.2) scale(1.06 1)" font-size="10.9" text-anchor="middle">20</text>
<text transform="translate(451.08 643.2) scale(1.06 1)" font-size="10.9" text-anchor="middle">22</text>
<text transform="translate(486.5 643.2) scale(1.06 1)" font-size="10.9" text-anchor="middle">24</text>
<text transform="translate(54.9 632.8) scale(1.06 1)" font-size="10.9" text-anchor="end">0</text>
<text transform="translate(54.9 617.51) scale(1.06 1)" font-size="10.9" text-anchor="end">100</text>
<text transform="translate(54.9 602.21) scale(1.06 1)" font-size="10.9" text-anchor="end">200</text>
<text transform="translate(54.9 586.92) scale(1.06 1)" font-size="10.9" text-anchor="end">300</text>
<text transform="translate(54.9 571.62) scale(1.06 1)" font-size="10.9" text-anchor="end">400</text>
<text transform="translate(54.9 556.33) scale(1.06 1)" font-size="10.9" text-anchor="end">500</text>
<text transform="translate(54.9 541.03) scale(1.06 1)" font-size="10.9" text-anchor="end">600</text>
<text transform="translate(54.9 525.74) scale(1.06 1)" font-size="10.9" text-anchor="end">700</text>
<text transform="translate(54.9 510.44) scale(1.06 1)" font-size="10.9" text-anchor="end">800</text>
<text transform="translate(54.9 495.15) scale(1.06 1)" font-size="10.9" text-anchor="end">900</text>
<text transform="translate(29.2 559.67) rotate(-90)" font-size="14" text-anchor="middle">W/m<tspan font-size="10.5" dy="-7.5">2</tspan></text>
<path d="M603.69 490.85V628.5M639.12 490.85V628.5M674.56 490.85V628.5M710 490.85V628.5M745.44 490.85V628.5M780.88 490.85V628.5M816.31 490.85V628.5M851.75 490.85V628.5M887.19 490.85V628.5M922.62 490.85V628.5M958.06 490.85V628.5M568.25 611.29H993.5M568.25 594.09H993.5M568.25 576.88H993.5M568.25 559.67H993.5M568.25 542.47H993.5M568.25 525.26H993.5M568.25 508.06H993.5" stroke="#8c8c8c" stroke-width="1" fill="none"/>
<path d="M568.25 490.85H993.5V628.5H568.25Z" stroke="#404040" stroke-width="1" fill="none"/>
<polyline points="568.2,504.52 569.21,507.53 570.51,508.23 573.02,508.03 575.52,507.83 576.83,511.24 579.84,511.54 581.54,514.85 583.05,515.55 584.55,518.26 586.06,518.86 587.36,522.07 588.56,518.56 590.27,518.56 591.57,521.87 593.08,518.56 595.08,518.26 596.59,521.87 597.59,518.26 599.09,521.57 601.6,521.57 602.9,522.57 603.91,527.09 604.91,532.1 606.11,528.59 607.62,532.1 608.92,528.89 610.63,532.1 612.43,528.59 613.94,531.9 615.34,532.3 616.95,535.31 619.65,535.61 621.36,542.33 624.37,542.63 625.67,552.36 629.98,552.36 631.69,556.17 633.19,552.66 634.4,555.17 636.2,556.17 637.71,559.38 639.01,555.67 639.71,559.68 641.42,566.2 643.42,566.4 646.23,572.72 648.04,573.72 649.44,576.73 650.74,573.72 655.26,573.72 656.76,576.73 661.27,576.73 662.58,573.42 664.08,576.73 665.79,580.24 666.5,580.18 669.51,580.18 671.02,577.67 672.52,569.95 674.03,569.34 676.03,569.95 677.54,573.15 678.84,569.64 680.04,572.65 681.85,580.18 683.55,575.66 685.86,570.15 687.57,569.64 691.58,569.64 693.58,566.33 695.09,566.13 696.89,563.33 700.6,563.13 702.61,566.33 704.11,566.13 705.62,563.33 708.13,563.33 710.13,566.33 712.94,566.13 714.34,563.13 715.45,570.65 716.95,560.12 718.66,558.61 720.16,555.9 722.67,562.12 724.67,563.33 726.18,566.33 727.38,563.13 729.19,566.33 730.69,566.13 732.7,561.62 734.7,553.6 736.41,552.09 738.01,546.08 741.22,545.57 743.73,539.26 745.43,535.55 747.24,539.06 748.74,538.55 750.05,535.55 751.45,536.05 752.76,539.06 754.26,545.88 755.46,542.57 757.07,545.88 761.28,545.88 765.29,545.88 766.8,545.88 767.02,545.54 768.52,549.05 770.23,552.56 776.05,552.56 777.55,549.05 779.06,551.55 780.56,555.57 782.06,562.59 783.57,569.31 786.28,569.61 788.08,573.12 789.59,573.62 791.29,576.33 792.9,577.13 794.6,581.64 796.31,586.15 798.11,587.66 799.62,590.17 801.32,590.37 802.93,587.16 804.63,591.17 805.93,593.38 807.34,593.68 808.94,597.19 810.45,600.7 811.95,597.69 813.15,597.19 814.66,593.68 816.16,596.69 817.67,597.69 819.17,600.7 820.68,597.39 823.18,597.19 824.99,604.41 826.69,600.7 828.2,600.7 829.7,603.71 831.21,604.41 832.71,607.22 835.22,607.22 836.72,604.21 838.03,607.22 839.53,611.03 841.24,607.72 842.74,607.42 844.25,611.03 845.45,607.42 847.05,611.03 848.46,614.44 850.06,611.23 851.47,610.43 853.27,607.72 854.78,607.02 856.08,604.71 857.48,604.21 858.79,597.69 860.29,597.19 861.8,592.17 863,587.66 863.52,586.69 865.03,590.71 866.53,584.19 868.04,579.17 869.54,572.65 870.85,569.95 872.25,569.34 873.55,563.63 875.06,563.13 876.86,566.13 878.27,566.33 879.57,555.1 881.28,563.13 883.58,556.91 885.59,555.9 887.09,552.59 888.3,556.61 889.6,549.59 891.61,549.29 893.11,552.09 894.41,548.88 895.62,555.6 897.12,556.11 899.13,552.59 902.14,552.59 904.64,552.59 906.15,549.08 907.65,545.88 910.16,551.89 911.97,552.59 913.67,555.3 915.18,556.31 916.68,562.93 918.69,563.33 920.99,566.33 922.4,562.12 923.7,559.62 925.41,559.62 927.01,563.13 928.71,566.64 930.02,573.15 934.23,573.15 935.74,576.67 938.24,576.97 940.05,573.66 943.06,573.36 944.76,569.64 949.27,569.64 952.78,569.64 954.29,566.64 956.3,566.33 958,573.15 959.62,573.66 960.92,576.67 962.62,576.67 963.93,573.36 965.63,573.36 966.94,576.67 969.14,576.97 971.35,576.97 972.95,584.19 974.16,587 975.36,579.97 976.97,587 978.17,583.69 979.97,587 983.69,587.2 985.69,583.38 987.2,587 988.7,583.38 990.2,582.68 991.71,580.18" fill="none" stroke="#ff0000" stroke-width="1" stroke-linejoin="round"/>
<text x="780.88" y="478.85" font-size="15.8" text-anchor="middle">Air Pressure</text>
<text transform="translate(568.25 643.2) scale(1.06 1)" font-size="10.9" text-anchor="middle">0</text>
<text transform="translate(603.69 643.2) scale(1.06 1)" font-size="10.9" text-anchor="middle">2</text>
<text transform="translate(639.12 643.2) scale(1.06 1)" font-size="10.9" text-anchor="middle">4</text>
<text transform="translate(674.56 643.2) scale(1.06 1)" font-size="10.9" text-anchor="middle">6</text>
<text transform="translate(710 643.2) scale(1.06 1)" font-size="10.9" text-anchor="middle">8</text>
<text transform="translate(745.44 643.2) scale(1.06 1)" font-size="10.9" text-anchor="middle">10</text>
<text transform="translate(780.88 643.2) scale(1.06 1)" font-size="10.9" text-anchor="middle">12</text>
<text transform="translate(816.31 643.2) scale(1.06 1)" font-size="10.9" text-anchor="middle">14</text>
<text transform="translate(851.75 643.2) scale(1.06 1)" font-size="10.9" text-anchor="middle">16</text>
<text transform="translate(887.19 643.2) scale(1.06 1)" font-size="10.9" text-anchor="middle">18</text>
<text transform="translate(922.62 643.2) scale(1.06 1)" font-size="10.9" text-anchor="middle">20</text>
<text transform="translate(958.06 643.2) scale(1.06 1)" font-size="10.9" text-anchor="middle">22</text>
<text transform="translate(993.5 643.2) scale(1.06 1)" font-size="10.9" text-anchor="middle">24</text>
<text transform="translate(561.65 632.8) scale(1.06 1)" font-size="10.9" text-anchor="end">746.0</text>
<text transform="translate(561.65 615.59) scale(1.06 1)" font-size="10.9" text-anchor="end">746.5</text>
<text transform="translate(561.65 598.39) scale(1.06 1)" font-size="10.9" text-anchor="end">747.0</text>
<text transform="translate(561.65 581.18) scale(1.06 1)" font-size="10.9" text-anchor="end">747.5</text>
<text transform="translate(561.65 563.97) scale(1.06 1)" font-size="10.9" text-anchor="end">748.0</text>
<text transform="translate(561.65 546.77) scale(1.06 1)" font-size="10.9" text-anchor="end">748.5</text>
<text transform="translate(561.65 529.56) scale(1.06 1)" font-size="10.9" text-anchor="end">749.0</text>
<text transform="translate(561.65 512.36) scale(1.06 1)" font-size="10.9" text-anchor="end">749.5</text>
<text transform="translate(561.65 495.15) scale(1.06 1)" font-size="10.9" text-anchor="end">750.0</text>
<text transform="translate(526.2 559.67) rotate(-90)" font-size="14" text-anchor="middle">millibars</text>
<path d="M96.92 692.85V830.5M132.33 692.85V830.5M167.75 692.85V830.5M203.17 692.85V830.5M238.58 692.85V830.5M274 692.85V830.5M309.42 692.85V830.5M344.83 692.85V830.5M380.25 692.85V830.5M415.67 692.85V830.5M451.08 692.85V830.5M61.5 809.32H486.5M61.5 788.15H486.5M61.5 766.97H486.5M61.5 745.79H486.5M61.5 724.62H486.5M61.5 703.44H486.5" stroke="#8c8c8c" stroke-width="1" fill="none"/>
<path d="M61.5 692.85H486.5V830.5H61.5Z" stroke="#404040" stroke-width="1" fill="none"/>
<polyline points="61.5,830.5 211.82,830.35 213.02,826.64 214.53,824.93 216.53,824.33 218.54,823.13 221.05,820.62 223.55,817.61 225.56,816.91 227.57,814.1 229.57,811.29 231.58,812.59 234.08,814.1 235.59,812.29 237.09,813.1 238.6,816.31 240.1,816.61 241.61,814.1 242.91,809.08 244.31,804.57 245.62,805.57 247.62,805.88 250.13,803.27 252.64,802.06 254.64,799.56 256.65,798.25 258.66,798.85 260.66,799.86 263.17,800.56 265.68,799.26 269.19,799.26 273.2,799.26 275.71,798.05 277.41,796.35 279.22,796.55 281.72,797.85 285.23,799.26 289.25,800.56 293.26,801.56 297.27,803.27 301.28,804.57 304.29,806.58 306.3,807.58 308,808.08 309.53,809.29 312.04,810.59 315.04,811.59 317.55,812.59 320.06,812.29 323.07,814.6 326.08,817.11 329.08,819.31 332.09,821.62 334.6,822.62 337.61,824.13 340.12,824.63 341.12,827.64 341.92,830.35 485,830.5" fill="none" stroke="#ff0000" stroke-width="1" stroke-linejoin="round"/>
<text x="274" y="680.85" font-size="15.8" text-anchor="middle">UV Index</text>
<text transform="translate(61.5 845.2) scale(1.06 1)" font-size="10.9" text-anchor="middle">0</text>
<text transform="translate(96.92 845.2) scale(1.06 1)" font-size="10.9" text-anchor="middle">2</text>
<text transform="translate(132.33 845.2) scale(1.06 1)" font-size="10.9" text-anchor="middle">4</text>
<text transform="translate(167.75 845.2) scale(1.06 1)" font-size="10.9" text-anchor="middle">6</text>
<text transform="translate(203.17 845.2) scale(1.06 1)" font-size="10.9" text-anchor="middle">8</text>
<text transform="translate(238.58 845.2) scale(1.06 1)" font-size="10.9" text-anchor="middle">10</text>
<text transform="translate(274 845.2) scale(1.06 1)" font-size="10.9" text-anchor="middle">12</text>
<text transform="translate(309.42 845.2) scale(1.06 1)" font-size="10.9" text-anchor="middle">14</text>
<text transform="translate(344.83 845.2) scale(1.06 1)" font-size="10.9" text-anchor="middle">16</text>
<text transform="translate(380.25 845.2) scale(1.06 1)" font-size="10.9" text-anchor="middle">18</text>
<text transform="translate(415.67 845.2) scale(1.06 1)" font-size="10.9" text-anchor="middle">20</text>
<text transform="translate(451.08 845.2) scale(1.06 1)" font-size="10.9" text-anchor="middle">22</text>
<text transform="translate(486.5 845.2) scale(1.06 1)" font-size="10.9" text-anchor="middle">24</text>
<text transform="translate(54.9 834.8) scale(1.06 1)" font-size="10.9" text-anchor="end">0</text>
<text transform="translate(54.9 813.62) scale(1.06 1)" font-size="10.9" text-anchor="end">2</text>
<text transform="translate(54.9 792.45) scale(1.06 1)" font-size="10.9" text-anchor="end">4</text>
<text transform="translate(54.9 771.27) scale(1.06 1)" font-size="10.9" text-anchor="end">6</text>
<text transform="translate(54.9 750.09) scale(1.06 1)" font-size="10.9" text-anchor="end">8</text>
<text transform="translate(54.9 728.92) scale(1.06 1)" font-size="10.9" text-anchor="end">10</text>
<text transform="translate(54.9 707.74) scale(1.06 1)" font-size="10.9" text-anchor="end">12</text>
<text transform="translate(36 761.67) rotate(-90)" font-size="14" text-anchor="middle">UV Index</text>
<text transform="translate(274 863.7) scale(1.03 1)" font-size="15.5" text-anchor="middle">Local Time (hour)</text>
<path d="M603.69 692.85V830.5M639.12 692.85V830.5M674.56 692.85V830.5M710 692.85V830.5M745.44 692.85V830.5M780.88 692.85V830.5M816.31 692.85V830.5M851.75 692.85V830.5M887.19 692.85V830.5M922.62 692.85V830.5M958.06 692.85V830.5M568.25 816.74H993.5M568.25 802.97H993.5M568.25 789.21H993.5M568.25 775.44H993.5M568.25 761.67H993.5M568.25 747.91H993.5M568.25 734.14H993.5M568.25 720.38H993.5M568.25 706.62H993.5" stroke="#8c8c8c" stroke-width="1" fill="none"/>
<path d="M568.25 692.85H993.5V830.5H568.25Z" stroke="#404040" stroke-width="1" fill="none"/>
<polyline points="568.25,830.5 992.08,830.5" fill="none" stroke="#ff0000" stroke-width="1" stroke-linejoin="round"/>
<text x="780.88" y="680.85" font-size="16" text-anchor="middle">24 hour Accumulated Rainfall or Snow Melt</text>
<text transform="translate(568.25 845.2) scale(1.06 1)" font-size="10.9" text-anchor="middle">0</text>
<text transform="translate(603.69 845.2) scale(1.06 1)" font-size="10.9" text-anchor="middle">2</text>
<text transform="translate(639.12 845.2) scale(1.06 1)" font-size="10.9" text-anchor="middle">4</text>
<text transform="translate(674.56 845.2) scale(1.06 1)" font-size="10.9" text-anchor="middle">6</text>
<text transform="translate(710 845.2) scale(1.06 1)" font-size="10.9" text-anchor="middle">8</text>
<text transform="translate(745.44 845.2) scale(1.06 1)" font-size="10.9" text-anchor="middle">10</text>
<text transform="translate(780.88 845.2) scale(1.06 1)" font-size="10.9" text-anchor="middle">12</text>
<text transform="translate(816.31 845.2) scale(1.06 1)" font-size="10.9" text-anchor="middle">14</text>
<text transform="translate(851.75 845.2) scale(1.06 1)" font-size="10.9" text-anchor="middle">16</text>
<text transform="translate(887.19 845.2) scale(1.06 1)" font-size="10.9" text-anchor="middle">18</text>
<text transform="translate(922.62 845.2) scale(1.06 1)" font-size="10.9" text-anchor="middle">20</text>
<text transform="translate(958.06 845.2) scale(1.06 1)" font-size="10.9" text-anchor="middle">22</text>
<text transform="translate(993.5 845.2) scale(1.06 1)" font-size="10.9" text-anchor="middle">24</text>
<text transform="translate(561.65 834.8) scale(1.06 1)" font-size="10.9" text-anchor="end">0.0</text>
<text transform="translate(561.65 821.03) scale(1.06 1)" font-size="10.9" text-anchor="end">0.01</text>
<text transform="translate(561.65 807.27) scale(1.06 1)" font-size="10.9" text-anchor="end">0.02</text>
<text transform="translate(561.65 793.5) scale(1.06 1)" font-size="10.9" text-anchor="end">0.03</text>
<text transform="translate(561.65 779.74) scale(1.06 1)" font-size="10.9" text-anchor="end">0.04</text>
<text transform="translate(561.65 765.97) scale(1.06 1)" font-size="10.9" text-anchor="end">0.05</text>
<text transform="translate(561.65 752.21) scale(1.06 1)" font-size="10.9" text-anchor="end">0.06</text>
<text transform="translate(561.65 738.44) scale(1.06 1)" font-size="10.9" text-anchor="end">0.07</text>
<text transform="translate(561.65 724.68) scale(1.06 1)" font-size="10.9" text-anchor="end">0.08</text>
<text transform="translate(561.65 710.91) scale(1.06 1)" font-size="10.9" text-anchor="end">0.09</text>
<text transform="translate(561.65 697.15) scale(1.06 1)" font-size="10.9" text-anchor="end">0.1</text>
<text transform="translate(1000 834.2) scale(1.06 1)" font-size="10.9" text-anchor="start">0.0</text>
<text transform="translate(1000 820.44) scale(1.06 1)" font-size="10.9" text-anchor="start">0.01</text>
<text transform="translate(1000 806.67) scale(1.06 1)" font-size="10.9" text-anchor="start">0.02</text>
<text transform="translate(1000 792.91) scale(1.06 1)" font-size="10.9" text-anchor="start">0.03</text>
<text transform="translate(1000 779.14) scale(1.06 1)" font-size="10.9" text-anchor="start">0.04</text>
<text transform="translate(1000 765.38) scale(1.06 1)" font-size="10.9" text-anchor="start">0.05</text>
<text transform="translate(1000 751.61) scale(1.06 1)" font-size="10.9" text-anchor="start">0.06</text>
<text transform="translate(1000 737.85) scale(1.06 1)" font-size="10.9" text-anchor="start">0.07</text>
<text transform="translate(1000 724.08) scale(1.06 1)" font-size="10.9" text-anchor="start">0.08</text>
<text transform="translate(1000 710.32) scale(1.06 1)" font-size="10.9" text-anchor="start">0.09</text>
<text transform="translate(1000 696.55) scale(1.06 1)" font-size="10.9" text-anchor="start">0.1</text>
<text transform="translate(533.5 761.67) rotate(-90)" font-size="14" text-anchor="middle">Inches</text>
<text transform="translate(780.88 863.7) scale(1.03 1)" font-size="15.5" text-anchor="middle">Local Time (hour)</text>
</svg>
</body></html>
